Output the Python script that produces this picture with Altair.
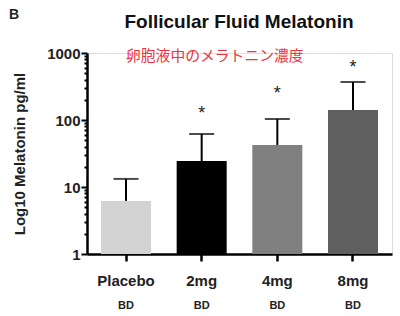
import altair as alt
import pandas as pd

groups = ["Placebo", "2mg", "4mg", "8mg"]
means = [6.2, 24.4, 42.4, 141]
err_top = [13.2, 61.8, 103.5, 369]
stars = ["", "*", "*", "*"]
star_pos = [None, 146, 290, 709]
colors = ["#d3d3d3", "#000000", "#808080", "#5f5f5f"]
bd = ["BD", "BD", "BD", "BD"]

major = [1, 10, 100, 1000]
minor = [2, 3, 4, 5, 6, 7, 8, 9, 20, 30, 40, 50, 60, 70, 80, 90, 200, 300, 400, 500, 600, 700, 800, 900]

df = pd.DataFrame({"group": groups, "mean": means, "err": err_top, "star": stars,
                   "star_pos": star_pos, "bd": bd})

FONT = "Liberation Sans"

x_enc = alt.X("group:N", sort=groups,
              scale=alt.Scale(paddingInner=0.339, paddingOuter=0.185),
              axis=alt.Axis(title=None, labelAngle=0, labelFontSize=15, labelFontWeight="bold",
                            labelFont=FONT, labelColor="#222", labelPadding=12,
                            tickSize=7, tickWidth=2.5, tickColor="black",
                            domainWidth=2.5, domainColor="black"))

y_scale = alt.Scale(type="log", domain=[1, 1000], nice=False)
y_axis = alt.Axis(title="Log10 Melatonin pg/ml", titleFontSize=15, titleFont=FONT,
                  titleFontWeight="bold", titleColor="#222", titlePadding=19,
                  values=sorted(major + minor),
                  labelExpr="indexof([1,10,100,1000], datum.value) >= 0 ? '' + datum.value : ''",
                  labelOverlap=False, labelFontSize=15, labelFontWeight="bold", labelFont=FONT,
                  labelColor="#222", labelPadding=1, grid=False,
                  tickSize={"condition": {"test": "indexof([1,10,100,1000], datum.value) >= 0", "value": 6}, "value": 3},
                  tickWidth=2, tickColor="black", domainWidth=2.5, domainColor="black")

base = alt.Chart(df)

bars = base.mark_bar().encode(
    x=x_enc,
    y=alt.Y("mean:Q", scale=y_scale, axis=y_axis),
    y2=alt.Y2(datum=1),
    color=alt.Color("group:N", sort=groups, scale=alt.Scale(domain=groups, range=colors), legend=None),
)

rules = base.mark_rule(color="black", strokeWidth=2).encode(
    x=alt.X("group:N", sort=groups), y="mean:Q", y2="err:Q")

caps = base.mark_tick(color="black", size=25, thickness=2).encode(
    x=alt.X("group:N", sort=groups), y="err:Q")

star_txt = base.transform_filter("datum.star_pos != null").mark_text(
    fontSize=18, font=FONT, baseline="alphabetic", dy=10, color="#222").encode(
    x=alt.X("group:N", sort=groups), y="star_pos:Q", text="star:N")

bd_txt = base.mark_text(fontSize=11, font=FONT, fontWeight="bold", color="#222", baseline="middle").encode(
    x=alt.X("group:N", sort=groups), y=alt.value(253), text="bd:N")

b_txt = alt.Chart(pd.DataFrame({"t": ["B"]})).mark_text(
    fontSize=14, font=FONT, fontWeight="bold", align="left", baseline="middle", color="#222").encode(
    x=alt.value(-78), y=alt.value(-38), text="t:N")

title_txt = alt.Chart(pd.DataFrame({"t": ["Follicular Fluid Melatonin"]})).mark_text(
    fontSize=19, font=FONT, fontWeight="bold", align="center", baseline="alphabetic", color="#111").encode(
    x=alt.value(152), y=alt.value(-25), text="t:N")

jp_txt = alt.Chart(pd.DataFrame({"t": ["卵胞液中のメラトニン濃度"]})).mark_text(
    fontSize=14.8, font="Noto Sans CJK JP", align="left", baseline="middle", color="#f0323c").encode(
    x=alt.value(39), y=alt.value(4), text="t:N")

chart = alt.layer(bars, rules, caps, star_txt, bd_txt, b_txt, title_txt, jp_txt).properties(
    width=305, height=201,
    padding={"left": 87, "top": 53, "right": 8, "bottom": 62},
    autosize="none",
).configure_view(stroke=None).configure(background="white")

chart.save("out.html", embed_options={"renderer": "svg", "actions": False})
